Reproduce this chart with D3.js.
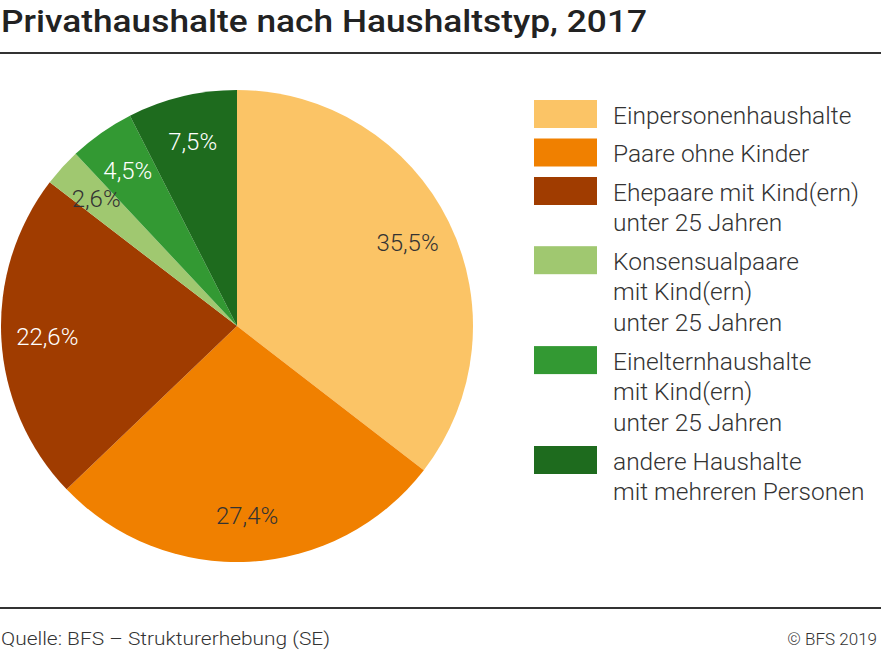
<!DOCTYPE html>
<html><head><meta charset="utf-8">
<script src="https://cdn.jsdelivr.net/npm/d3@7"></script>
<style>body{margin:0;background:#fff}svg{display:block}text{font-family:Roboto,"Noto Sans",sans-serif}</style>
</head><body>
<svg id="c" width="881" height="652"></svg>
<script>
const categories = ["Einpersonenhaushalte","Paare ohne Kinder","Ehepaare mit Kind(ern) unter 25 Jahren","Konsensualpaare mit Kind(ern) unter 25 Jahren","Einelternhaushalte mit Kind(ern) unter 25 Jahren","andere Haushalte mit mehreren Personen"];
const legendLines = [["Einpersonenhaushalte"],["Paare ohne Kinder"],["Ehepaare mit Kind(ern)","unter 25 Jahren"],["Konsensualpaare","mit Kind(ern)","unter 25 Jahren"],["Einelternhaushalte","mit Kind(ern)","unter 25 Jahren"],["andere Haushalte","mit mehreren Personen"]];
const values = [35.5, 27.4, 22.6, 2.6, 4.5, 7.5];
const labels = ["35,5%","27,4%","22,6%","2,6%","4,5%","7,5%"];
const colors = ["#fbc466","#f08000","#a03c00","#a0c870","#339933","#1e6b1e"];
const labelColors = ["#333","#333","#fff","#333","#fff","#fff"];

const svg = d3.select("#c");
svg.append("text").attr("x",1).attr("y",32).attr("font-size",31).attr("font-weight",500)
  .attr("fill","#222").attr("textLength",646).attr("lengthAdjust","spacingAndGlyphs")
  .text("Privathaushalte nach Haushaltstyp, 2017");
svg.append("rect").attr("x",0).attr("y",52).attr("width",881).attr("height",2).attr("fill","#333");
svg.append("rect").attr("x",0).attr("y",607).attr("width",881).attr("height",2).attr("fill","#333");
svg.append("text").attr("x",1).attr("y",645).attr("font-size",18).attr("font-weight",300)
  .attr("fill","#333").attr("textLength",329).attr("lengthAdjust","spacingAndGlyphs")
  .text("Quelle: BFS – Strukturerhebung (SE)");
svg.append("text").attr("x",877).attr("y",645).attr("font-size",17).attr("font-weight",300)
  .attr("fill","#333").attr("text-anchor","end").text("© BFS 2019");

const cx = 237, cy = 326, R = 236;
const pie = d3.pie().sort(null).value(d=>d);
const arcs = pie(values);
const arc = d3.arc().innerRadius(0).outerRadius(R);
const g = svg.append("g").attr("transform",`translate(${cx},${cy})`);
g.selectAll("path").data(arcs).join("path").attr("d",arc).attr("fill",(d,i)=>colors[i]);
const lr = 190;
g.selectAll("text").data(arcs).join("text")
  .attr("x",d=>lr*Math.sin((d.startAngle+d.endAngle)/2))
  .attr("y",d=>-lr*Math.cos((d.startAngle+d.endAngle)/2))
  .attr("dy","0.35em").attr("text-anchor","middle").attr("font-size",24).attr("font-weight",300)
  .attr("fill",(d,i)=>labelColors[i]).text((d,i)=>labels[i]);

// legend
const lg = svg.append("g");
let y = 115;
legendLines.forEach((lines,i)=>{
  lg.append("rect").attr("x",534).attr("y",y-15).attr("width",63).attr("height",28).attr("fill",colors[i]);
  lines.forEach((t,j)=>{
    lg.append("text").attr("x",613).attr("y",y+j*30.7).attr("dy","0.35em").attr("font-size",24.5)
      .attr("font-weight",300).attr("fill","#333").text(t);
  });
  y += (lines.length-1)*30.7 + 38.5;
});
</script>
</body></html>
